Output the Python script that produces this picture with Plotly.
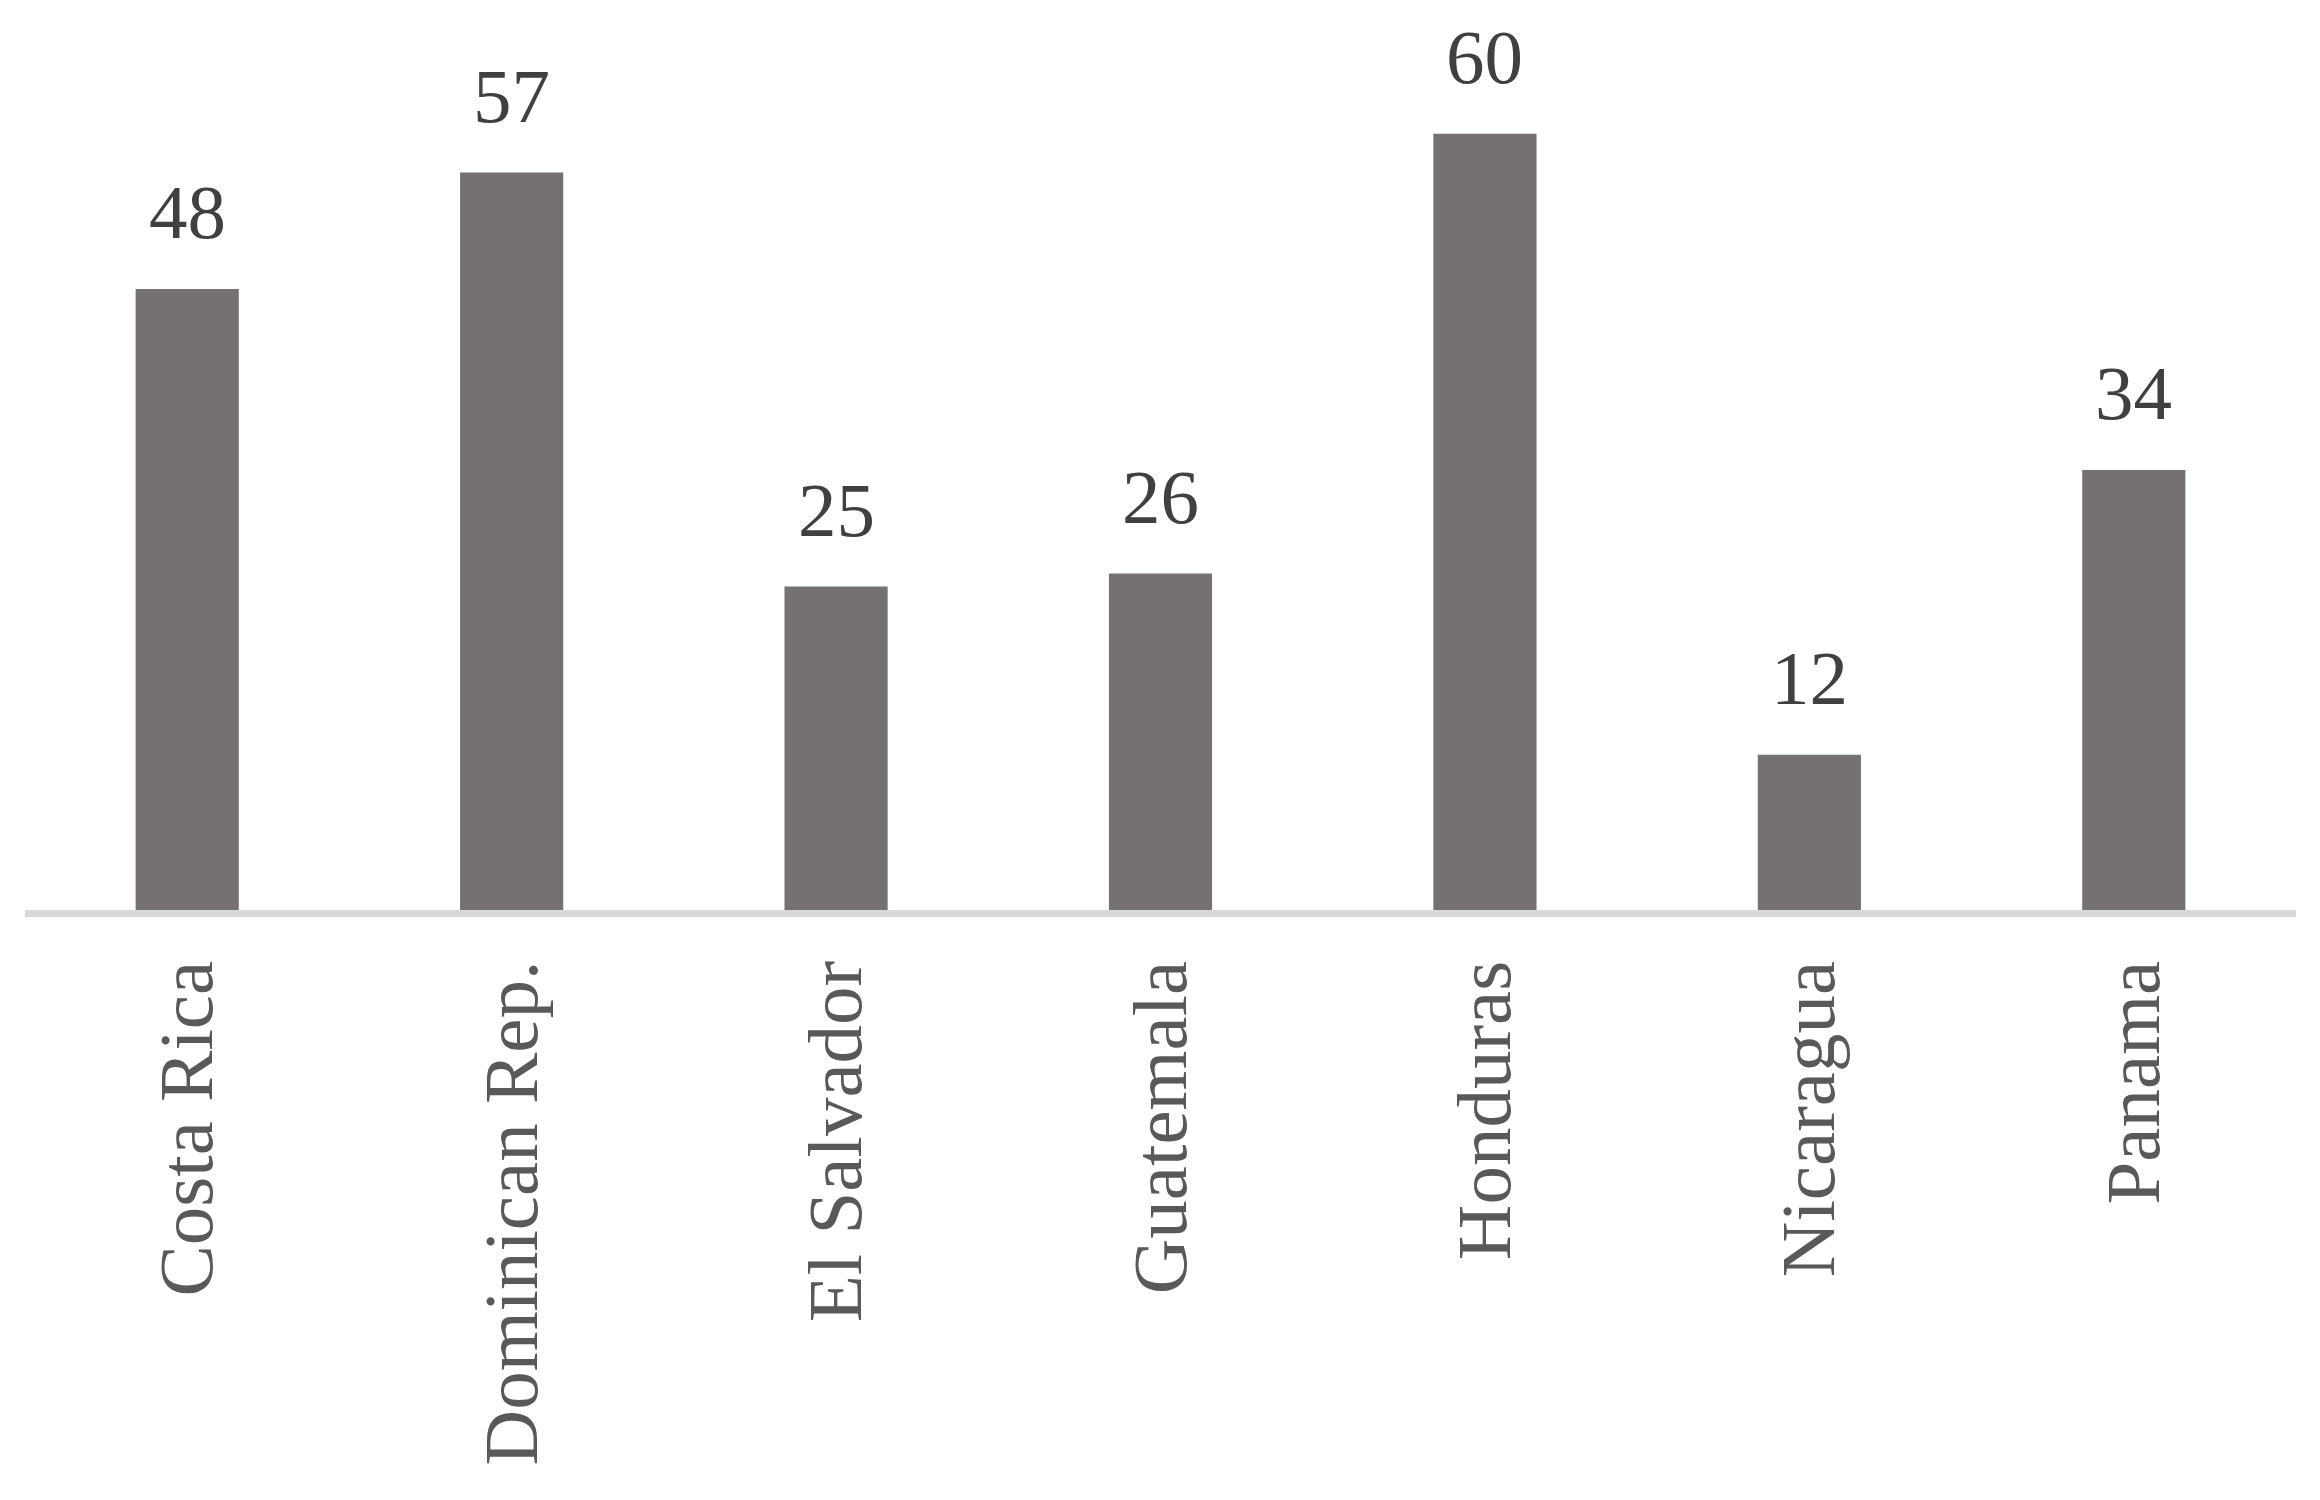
import plotly.graph_objects as go

countries = ["Costa Rica", "Dominican Rep.", "El Salvador", "Guatemala", "Honduras", "Nicaragua", "Panama"]
values = [48, 57, 25, 26, 60, 12, 34]

bar_color = "#767171"
label_color = "#404040"
tick_color = "#595959"
font_family = "Liberation Serif, Times New Roman, serif"

fig = go.Figure()
fig.add_trace(go.Bar(
    x=countries, y=values,
    marker=dict(color=bar_color, line=dict(width=0)),
    hoverinfo="skip",
))

for c, v in zip(countries, values):
    fig.add_annotation(
        x=c, y=v, text=str(v), showarrow=False,
        yanchor="bottom", yshift=32,
        font=dict(family=font_family, size=77, color=label_color),
    )

fig.update_layout(
    width=2312, height=1492,
    margin=dict(l=17, r=24, t=52, b=590),
    paper_bgcolor="white", plot_bgcolor="white",
    bargap=0.682,
    showlegend=False,
    font=dict(family=font_family),
)
fig.update_xaxes(
    showline=True, linecolor="#d9d9d9", linewidth=7,
    showgrid=False, ticks="", tickangle=-90,
    tickfont=dict(family=font_family, size=77, color=tick_color),
    ticklabelstandoff=13,
)
fig.update_yaxes(
    range=[0, 65.7], visible=False, showgrid=False, zeroline=False,
)

fig.write_html("out.html")
